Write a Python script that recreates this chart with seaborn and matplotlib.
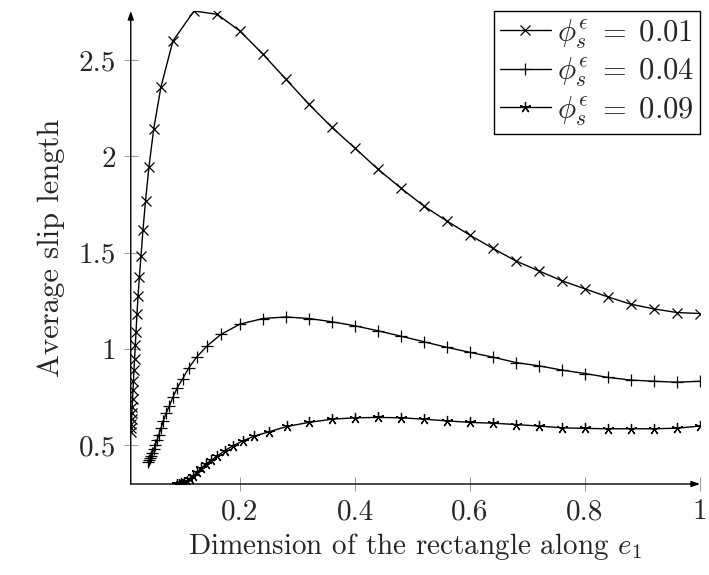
import matplotlib
matplotlib.use("Agg")
import matplotlib.pyplot as plt
import seaborn as sns
import pandas as pd

# ---------------- data ----------------
labels = [r"$\phi_s^\epsilon \;=\; 0.01$", r"$\phi_s^\epsilon \;=\; 0.04$", r"$\phi_s^\epsilon \;=\; 0.09$"]

x1 = [0.01, 0.0104, 0.0109, 0.0114, 0.0119, 0.0125, 0.0132, 0.0139, 0.0147, 0.0156,
      0.0167, 0.0179, 0.0192, 0.0208, 0.0227, 0.025, 0.0278, 0.0313, 0.0357, 0.0417,
      0.05, 0.0625, 0.0833, 0.12, 0.16, 0.20, 0.24, 0.28, 0.32, 0.36, 0.40, 0.44, 0.48,
      0.52, 0.56, 0.60, 0.64, 0.68, 0.72, 0.76, 0.80, 0.84, 0.88, 0.92, 0.96, 1.00]
y1 = [0.569, 0.588, 0.610, 0.635, 0.665, 0.699, 0.739, 0.786, 0.832, 0.890,
      0.950, 1.019, 1.089, 1.180, 1.274, 1.374, 1.483, 1.620, 1.769, 1.946,
      2.145, 2.361, 2.600, 2.756, 2.739, 2.652, 2.531, 2.401, 2.271, 2.151, 2.043, 1.934, 1.835,
      1.742, 1.664, 1.591, 1.522, 1.457, 1.405, 1.354, 1.312, 1.270, 1.232, 1.208, 1.189, 1.184]

x2 = [0.04, 0.0417, 0.0435, 0.0455, 0.0476, 0.05, 0.0526, 0.0556, 0.0588, 0.0625,
      0.0667, 0.0714, 0.0769, 0.0833, 0.0909, 0.1, 0.1111, 0.125, 0.1429, 0.1667,
      0.20, 0.24, 0.28, 0.32, 0.36, 0.40, 0.44, 0.48, 0.52, 0.56, 0.60, 0.64, 0.68,
      0.72, 0.76, 0.80, 0.84, 0.88, 0.92, 0.96, 1.00]
y2 = [0.414, 0.422, 0.432, 0.445, 0.458, 0.478, 0.500, 0.525, 0.552, 0.587,
      0.626, 0.665, 0.703, 0.748, 0.798, 0.843, 0.902, 0.959, 1.016, 1.075,
      1.129, 1.158, 1.166, 1.158, 1.141, 1.120, 1.094, 1.066, 1.037, 1.008, 0.982, 0.957, 0.929,
      0.912, 0.890, 0.872, 0.852, 0.838, 0.832, 0.827, 0.832]

x3 = [0.09, 0.0938, 0.0978, 0.1023, 0.1071, 0.1125, 0.1184, 0.125, 0.1324, 0.1406,
      0.15, 0.1607, 0.1731, 0.1875, 0.2045, 0.225, 0.25, 0.2813,
      0.32, 0.36, 0.40, 0.44, 0.48, 0.52, 0.56, 0.60, 0.64, 0.68, 0.72, 0.76, 0.80,
      0.84, 0.88, 0.92, 0.96, 1.00]
y3 = [0.298, 0.300, 0.302, 0.306, 0.312, 0.322, 0.339, 0.358, 0.379, 0.401,
      0.422, 0.444, 0.470, 0.496, 0.522, 0.547, 0.569, 0.597,
      0.618, 0.635, 0.642, 0.644, 0.642, 0.635, 0.626, 0.618, 0.614, 0.607, 0.599, 0.590, 0.587,
      0.585, 0.585, 0.585, 0.588, 0.599]

xticks = [0.2, 0.4, 0.6, 0.8, 1.0]
xticklabels = ["0.2", "0.4", "0.6", "0.8", "1"]
yticks = [0.5, 1.0, 1.5, 2.0, 2.5]
yticklabels = ["0.5", "1", "1.5", "2", "2.5"]

# ---------------- style ----------------
sns.set_style("white")
plt.rcParams["font.family"] = ["cmr10", "DejaVu Serif"]
plt.rcParams["mathtext.fontset"] = "cm"
plt.rcParams["axes.formatter.use_mathtext"] = True
FS = 21

fig = plt.figure(figsize=(7.09, 5.75), dpi=100)
ax = fig.add_axes([130.75 / 709, (575 - 484) / 575, (700 - 130.75) / 709, (484 - 11) / 575])

series = [(x1, y1, "x", 6.5), (x2, y2, "+", 8.5), (x3, y3, (5, 2, 0), 8.0)]
for (xs, ys, mk, ms), lab in zip(series, labels):
    df = pd.DataFrame({"x": xs, "y": ys})
    sns.lineplot(data=df, x="x", y="y", ax=ax, color="black", linewidth=1.0,
                 marker=mk, markersize=ms, markeredgewidth=0.9, markeredgecolor="black",
                 label=lab, sort=False)

ymin = min(min(y1), min(y2), min(y3))
ymax = max(max(y1), max(y2), max(y3))
ax.set_xlim(min(x1), 1.0)
ax.set_ylim(ymin, ymax)

ax.set_xticks(xticks)
ax.set_xticklabels(xticklabels)
ax.set_yticks(yticks)
ax.set_yticklabels(yticklabels)
ax.tick_params(direction="inout", length=9.5, width=0.7, color="0.6",
               labelsize=FS, pad=6, bottom=True, left=True)

for s in ax.spines.values():
    s.set_visible(False)
ax.annotate("", xy=(1.0, 0), xytext=(0, 0), xycoords="axes fraction",
            arrowprops=dict(arrowstyle="-|>,head_length=0.5,head_width=0.18", color="black", lw=1.0,
                            shrinkA=0, shrinkB=0), annotation_clip=False)
ax.annotate("", xy=(0, 1.0), xytext=(0, 0), xycoords="axes fraction",
            arrowprops=dict(arrowstyle="-|>,head_length=0.5,head_width=0.18", color="black", lw=1.0,
                            shrinkA=0, shrinkB=0), annotation_clip=False)

ax.set_xlabel(r"Dimension of the rectangle along $e_1$", fontsize=FS, labelpad=4)
ax.set_ylabel("Average slip length", fontsize=FS + 1, labelpad=10)

leg = ax.legend(loc="upper right", fontsize=FS + 1, frameon=True, fancybox=False,
                edgecolor="black", framealpha=1, borderaxespad=0, handlelength=1.65,
                handletextpad=0.2, labelspacing=0.15, borderpad=0.2)
leg.get_frame().set_linewidth(1.0)

fig.savefig("out.png", dpi=100)
